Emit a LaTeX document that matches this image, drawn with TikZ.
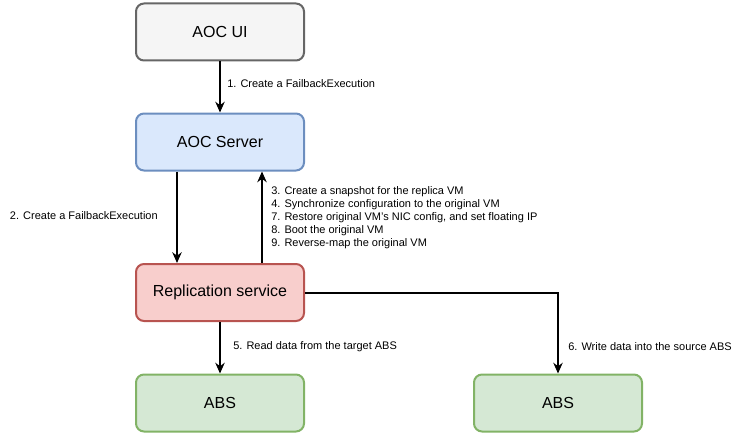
\documentclass[tikz,border=0pt]{standalone}
\usepackage{fontspec}
\setmainfont{Liberation Sans}
\usepackage{xcolor}
\usetikzlibrary{arrows.meta}

\definecolor{uifill}{HTML}{F5F5F5}
\definecolor{uiline}{HTML}{666666}
\definecolor{srvfill}{HTML}{DAE8FC}
\definecolor{srvline}{HTML}{6C8EBF}
\definecolor{repfill}{HTML}{F8CECC}
\definecolor{repline}{HTML}{B85450}
\definecolor{absfill}{HTML}{D5E8D4}
\definecolor{absline}{HTML}{82B366}

\begin{document}
\begin{tikzpicture}[x=0.75pt, y=-0.75pt,
    box/.style={rectangle, rounded corners=6pt, line width=1.5pt,
        minimum width=126pt, minimum height=42.75pt,
        font=\fontsize{12}{14}\selectfont},
    flow/.style={line width=1.5pt, -{Stealth[length=8pt, width=7pt, inset=2.5pt]}},
    lbl/.style={inner sep=0pt, font=\fontsize{8.25}{9.75}\selectfont}]
    \useasboundingbox (0,0) rectangle (745,435);

    \node[box, draw=uiline, fill=uifill] (ui) at (220,32) {AOC UI};
    \node[box, draw=srvline, fill=srvfill] (srv) at (220,142) {AOC Server};
    \node[box, draw=repline, fill=repfill] (rep) at (220,292.5) {Replication service};
    \node[box, draw=absline, fill=absfill] (absL) at (220,403) {ABS};
    \node[box, draw=absline, fill=absfill] (absR) at (558,403) {ABS};

    \draw[flow] (ui) -- (srv);
    \node[lbl, anchor=west] (l1) at (227,84) {1. Create a FailbackExecution};

    \draw[flow] ([xshift=-32.25pt]srv.south) -- ([xshift=-32.25pt]rep.north);
    \node[lbl, anchor=east] (l2) at (158,216) {2. Create a FailbackExecution};

    \draw[flow] ([xshift=31.5pt]rep.north) -- ([xshift=31.5pt]srv.south);
    \node[lbl, anchor=west, align=left] (l3) at (271,218)
        {3. Create a snapshot for the replica VM\\
         4. Synchronize configuration to the original VM\\
         7. Restore original VM's NIC config, and set floating IP\\
         8. Boot the original VM\\
         9. Reverse-map the original VM};

    \draw[flow] (rep) -- (absL);
    \node[lbl, anchor=west] (l5) at (233,347) {5. Read data from the target ABS};

    \draw[flow] (rep.east) -| (absR.north);
    \node[lbl, anchor=west] (l6) at (568,347) {6. Write data into the source ABS};
\end{tikzpicture}
\end{document}
